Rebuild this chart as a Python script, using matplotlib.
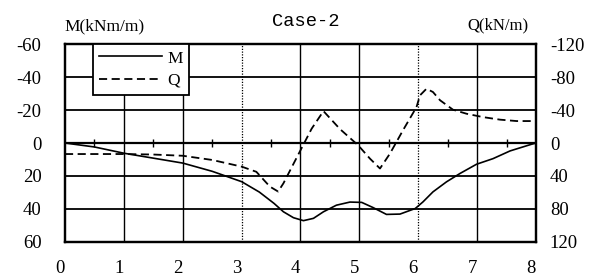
import matplotlib
matplotlib.use("Agg")
import matplotlib.pyplot as plt
import matplotlib.transforms as mtransforms
import numpy as np

plt.rcParams['axes.unicode_minus'] = False

# ---- data ----
x_M = [0, 0.5, 1.0, 1.5, 2.0, 2.5, 3.0, 3.3, 3.55, 3.71, 3.88, 4.05, 4.22, 4.39,
       4.61, 4.84, 5.04, 5.23, 5.46, 5.69, 5.95, 6.08, 6.25, 6.48, 6.71, 6.99,
       7.27, 7.56, 7.92, 8.0]
M_vals = [0, 2.4, 6.2, 9.2, 12.2, 17.2, 23.5, 29.8, 36.7, 41.8, 45.4, 47.2, 45.8, 41.8,
          37.8, 35.9, 36.1, 39.2, 43.4, 43.2, 39.8, 35.8, 29.7, 23.6, 18.5, 12.9,
          9.5, 4.8, 0.8, 0]

x_Q = [0, 1.0, 1.5, 2.0, 2.5, 3.0, 3.25, 3.48, 3.62, 3.71, 4.0, 4.19, 4.39, 4.67,
       4.98, 5.18, 5.35, 5.52, 5.74, 5.97, 6.03, 6.14, 6.25, 6.37, 6.59, 6.82,
       7.1, 7.39, 7.67, 8.0]
Q_vals = [13.4, 13.4, 14.0, 15.5, 20.6, 28.7, 35.0, 53.0, 59.0, 49.0, 8.8, -17.5, -38.8, -17.0,
          2.8, 19.0, 31.0, 12.8, -15.4, -43.6, -58.0, -66.0, -62.0, -52.0, -40.5, -35.6,
          -31.5, -28.4, -26.7, -26.7]

x_ticks = [0, 1, 2, 3, 4, 5, 6, 7, 8]
M_ticks = [-60, -40, -20, 0, 20, 40, 60]
Q_ticks = [-120, -80, -40, 0, 40, 80, 120]
title = "Case-2"
M_label = "M(kNm/m)"
Q_label = "Q(kN/m)"

# ---- figure ----
fig = plt.figure(figsize=(5.92, 2.77), dpi=100)
ax = fig.add_axes([0.1098, 0.1274, 0.7956, 0.7126])
ax2 = ax.twinx()

ax.set_xlim(0, 8)
ax.set_ylim(60, -60)
ax2.set_ylim(120, -120)

# grid
for g in [-40, -20, 0, 20, 40]:
    ax.axhline(g, color='black', lw=1.6 if g == 0 else 1.3, zorder=1)
for v in [1, 2, 3, 4, 5, 6, 7]:
    if v in (3, 6):
        ax.axvline(v, color='black', lw=0.9, ls=(0, (1, 1.2)), zorder=1)
    else:
        ax.axvline(v, color='black', lw=1.0, zorder=1)
# half-unit tick marks on the zero line
half = np.arange(0.5, 8, 1.0)
ax.vlines(half, -2.5, 2.5, color='black', lw=1.0, zorder=1)

lM, = ax.plot(x_M, M_vals, color='black', lw=1.2, zorder=3, label='M',
              solid_joinstyle='round')
lQ, = ax2.plot(x_Q, Q_vals, color='black', lw=1.3, ls=(0, (4.5, 2.5)), zorder=3, label='Q')

for a in (ax, ax2):
    for s in a.spines.values():
        s.set_linewidth(1.6)
        s.set_color('black')

tick_font = dict(family='Liberation Serif', size=13.5)
ax.set_xticks(x_ticks)
ax.set_xticklabels([str(t) for t in x_ticks], **tick_font)
ax.set_yticks(M_ticks)
ax.set_yticklabels([str(t) for t in M_ticks], **tick_font)
ax2.set_yticks(Q_ticks)
ax2.set_yticklabels([str(t) for t in Q_ticks], **tick_font)
ax.tick_params(axis='x', length=0, pad=13)
ax.tick_params(axis='y', length=0, pad=17)
ax2.tick_params(axis='y', length=0, pad=10)

offset = mtransforms.ScaledTranslation(-5 / 100, 0, fig.dpi_scale_trans)
for lab in ax.get_xticklabels():
    lab.set_transform(lab.get_transform() + offset)

fig.text(64 / 592, 1 - 26 / 277, M_label, ha='left', va='center',
         family='Liberation Serif', size=12.5)
fig.text(306 / 592, 1 - 22 / 277, title, ha='center', va='center',
         family='Liberation Mono', size=13.5)
fig.text(528 / 592, 1 - 25 / 277, Q_label, ha='right', va='center',
         family='Liberation Serif', size=12)

leg = ax2.legend(handles=[lM, lQ], loc='upper left', bbox_to_anchor=(0.06, 1.0),
                 borderaxespad=0, frameon=True, fancybox=False, framealpha=1,
                 edgecolor='black', handlelength=3.6, handletextpad=0.3,
                 borderpad=0.35, labelspacing=0.35,
                 prop={'family': 'Liberation Serif', 'size': 12.5})
leg.get_frame().set_linewidth(1.3)
leg.set_zorder(10)

fig.savefig('out.png', dpi=100)
